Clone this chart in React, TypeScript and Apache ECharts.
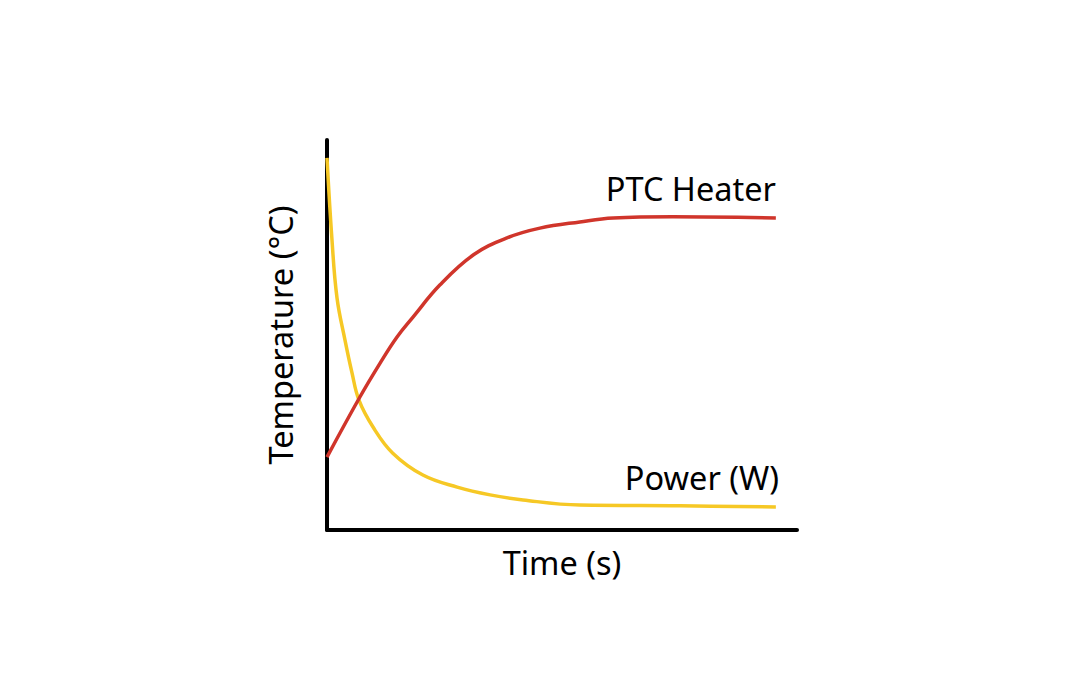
import React, { useEffect, useRef } from "react";
import * as echarts from "echarts";

const heaterX = [0, 7.0, 11.3, 14.9, 18.3, 24.0, 31.1, 38.3, 45.3, 53.8, 60.9, 73.6, 95.5];
const heaterY = [18.7, 34.1, 42.8, 49.5, 54.6, 62.8, 70.5, 74.9, 77.4, 79.0, 80.0, 80.3, 80.0];
const powerX = [0, 1.06, 2.13, 3.83, 5.32, 6.8, 9.79, 14.0, 20.4, 27.7, 34.7, 41.7, 53.8, 75.1, 95.5];
const powerY = [95.4, 74.4, 59.5, 48.7, 40.3, 33.3, 26.4, 19.7, 14.1, 11.0, 9.0, 7.7, 6.4, 6.2, 5.9];
const seriesNames = ["PTC Heater", "Power (W)"];
const axisNames = { x: "Time (s)", y: "Temperature (°C)" };

const FONT = "Noto Sans";
const FS = 32.5;

export default function App() {
  const ref = useRef<HTMLDivElement>(null);
  useEffect(() => {
    const chart = echarts.init(ref.current!, null, { renderer: "svg" });
    chart.setOption({
      animation: false,
      backgroundColor: "#ffffff",
      grid: { left: 319, right: 291, top: 132, bottom: 178, containLabel: false },
      xAxis: {
        type: "value",
        min: 0,
        max: 100,
        name: axisNames.x,
        nameLocation: "middle",
        nameGap: 16,
        nameTextStyle: { fontFamily: FONT, fontSize: FS, color: "#000" },
        axisLine: { show: true, lineStyle: { color: "#000", width: 4 } },
        axisTick: { show: false },
        axisLabel: { show: false },
        splitLine: { show: false },
      },
      yAxis: {
        type: "value",
        min: 0,
        max: 100,
        name: axisNames.y,
        nameLocation: "middle",
        nameGap: 30,
        nameRotate: 90,
        nameTextStyle: { fontFamily: FONT, fontSize: FS, color: "#000" },
        axisLine: { show: true, lineStyle: { color: "#000", width: 4 } },
        axisTick: { show: false },
        axisLabel: { show: false },
        splitLine: { show: false },
      },
      series: [
        {
          name: seriesNames[0],
          type: "line",
          smooth: 0.4,
          symbol: "none",
          data: heaterX.map((x, i) => [x, heaterY[i]]),
          lineStyle: { color: "#d0352b", width: 3.5 },
          z: 3,
        },
        {
          name: seriesNames[1],
          type: "line",
          smooth: 0.4,
          symbol: "none",
          data: powerX.map((x, i) => [x, powerY[i]]),
          lineStyle: { color: "#f6c825", width: 3.5 },
          z: 2,
        },
      ],
      graphic: [
        {
          type: "text",
          right: 312,
          top: 164,
          style: { text: seriesNames[0], fontFamily: FONT, fontSize: FS, fill: "#000" },
        },
        {
          type: "text",
          right: 309,
          top: 453,
          style: { text: seriesNames[1], fontFamily: FONT, fontSize: FS, fill: "#000" },
        },
      ],
    });
    return () => chart.dispose();
  }, []);
  return <div ref={ref} style={{ width: 1080, height: 700 }} />;
}
